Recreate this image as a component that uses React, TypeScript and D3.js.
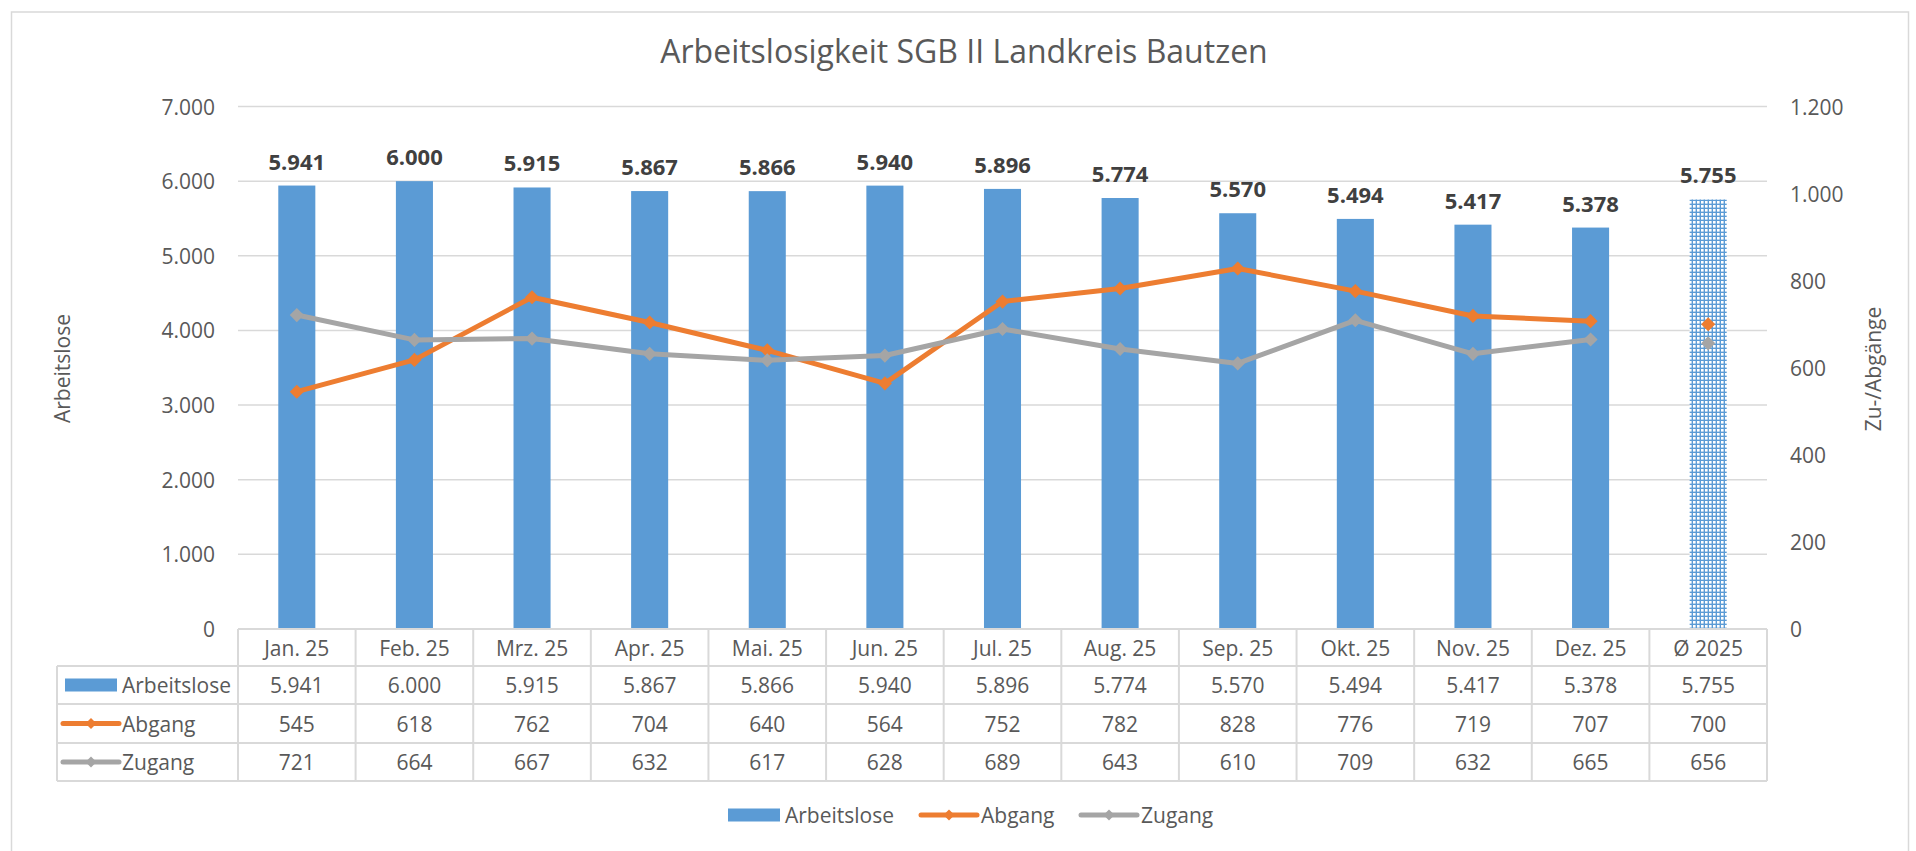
import React from 'react';
import * as d3 from 'd3';

const categories = ['Jan. 25', 'Feb. 25', 'Mrz. 25', 'Apr. 25', 'Mai. 25', 'Jun. 25', 'Jul. 25', 'Aug. 25', 'Sep. 25', 'Okt. 25', 'Nov. 25', 'Dez. 25', 'Ø 2025'];
const arbeitslose = [5941, 6000, 5915, 5867, 5866, 5940, 5896, 5774, 5570, 5494, 5417, 5378, 5755];
const abgang = [545, 618, 762, 704, 640, 564, 752, 782, 828, 776, 719, 707, 700];
const zugang = [721, 664, 667, 632, 617, 628, 689, 643, 610, 709, 632, 665, 656];
const leftTicks = [0, 1000, 2000, 3000, 4000, 5000, 6000, 7000];
const rightTicks = [0, 200, 400, 600, 800, 1000, 1200];

const BLUE = '#5B9BD5';
const ORANGE = '#ED7D31';
const GRAY = '#A5A5A5';
const TEXT = '#595959';
const GRID = '#D9D9D9';
const FONT = "'Open Sans', sans-serif";

const de = d3.formatLocale({ decimal: ',', thousands: '.', grouping: [3], currency: ['', '€'] });
const fmt = de.format(',');

const App = () => {
  const width = 1916;
  const height = 851;
  const left = 238;
  const right = 1767;
  const top = 106.5;
  const bottom = 629;

  const x = d3.scaleBand().domain(categories).range([left, right]).padding(0);
  const y = d3.scaleLinear().domain([0, 7000]).range([bottom, top]);
  const y2 = d3.scaleLinear().domain([0, 1200]).range([bottom, top]);
  const bw = x.bandwidth() * 0.315;
  const cx = (c) => x(c) + x.bandwidth() / 2;

  const months = categories.slice(0, 12);
  const line = d3.line().x((d) => cx(d[0])).y((d) => y2(d[1]));
  const diamond = d3.symbol(d3.symbolSquare, 100)();

  const rowY = [647.5, 685, 723.5, 762];
  const rowLines = [666, 704, 743, 781];

  const series = [
    { name: 'Abgang', values: abgang, color: ORANGE },
    { name: 'Zugang', values: zugang, color: GRAY },
  ];

  const lineKey = (x0, yc, color) => (
    <g>
      <line x1={x0} x2={x0 + 56} y1={yc} y2={yc} stroke={color} strokeWidth={5} strokeLinecap="round" />
      <path d={d3.symbol(d3.symbolSquare, 60)()} transform={`translate(${x0 + 28},${yc}) rotate(45)`} fill={color} />
    </g>
  );

  return (
    <div style={{ position: 'absolute', left: 0, top: 0 }}>
      <svg width={width} height={height} style={{ display: 'block', fontFamily: FONT }}>
        <defs>
          <pattern id="dots" width={4} height={4} patternUnits="userSpaceOnUse">
            <rect width={4} height={4} fill={BLUE} />
            <rect x={1} y={1} width={2.6} height={2.6} fill="#ffffff" />
          </pattern>
        </defs>
        <rect x={0} y={0} width={width} height={height} fill="#ffffff" />
        <rect x={11.5} y={12} width={1897} height={900} fill="none" stroke={GRID} strokeWidth={1.5} />

        <text x={964} y={62.7} textAnchor="middle" fontSize={32} fill={TEXT}>
          Arbeitslosigkeit SGB II Landkreis Bautzen
        </text>

        {leftTicks.slice(1).map((t) => (
          <line key={t} x1={left} x2={right} y1={y(t)} y2={y(t)} stroke={GRID} strokeWidth={1.5} />
        ))}
        {leftTicks.map((t) => (
          <text key={t} x={215} y={y(t)} textAnchor="end" dominantBaseline="central" fontSize={21} fill={TEXT}>
            {fmt(t)}
          </text>
        ))}
        {rightTicks.map((t) => (
          <text key={t} x={1790} y={y2(t)} textAnchor="start" dominantBaseline="central" fontSize={21} fill={TEXT}>
            {fmt(t)}
          </text>
        ))}
        <text transform="translate(61.7,368.5) rotate(-90)" textAnchor="middle" dominantBaseline="central" fontSize={21} fill={TEXT}>
          Arbeitslose
        </text>
        <text transform="translate(1873,369) rotate(-90)" textAnchor="middle" dominantBaseline="central" fontSize={21} fill={TEXT}>
          Zu-/Abgänge
        </text>

        {categories.map((c, i) => (
          <rect
            key={c}
            x={cx(c) - bw / 2}
            y={y(arbeitslose[i])}
            width={bw}
            height={bottom - y(arbeitslose[i])}
            fill={i === 12 ? 'url(#dots)' : BLUE}
          />
        ))}
        {categories.map((c, i) => (
          <text key={c} x={cx(c)} y={y(arbeitslose[i]) - 25} textAnchor="middle" dominantBaseline="central" fontSize={22} fontWeight="bold" fill="#404040">
            {fmt(arbeitslose[i])}
          </text>
        ))}

        {series.map((s) => (
          <g key={s.name}>
            <path d={line(months.map((m, i) => [m, s.values[i]]))} fill="none" stroke={s.color} strokeWidth={5} strokeLinejoin="round" strokeLinecap="round" />
            {categories.map((c, i) => (
              <path key={c} d={diamond} transform={`translate(${cx(c)},${y2(s.values[i])}) rotate(45)`} fill={s.color} />
            ))}
          </g>
        ))}

        {/* data table */}
        <g stroke={GRID} strokeWidth={2} fill="none">
          <line x1={left} x2={right} y1={bottom} y2={bottom} />
          {rowLines.map((ry) => (
            <line key={ry} x1={57} x2={right} y1={ry} y2={ry} />
          ))}
          <line x1={57} x2={57} y1={rowLines[0]} y2={rowLines[3]} />
          {categories.map((c) => (
            <line key={c} x1={x(c)} x2={x(c)} y1={bottom} y2={rowLines[3]} />
          ))}
          <line x1={right} x2={right} y1={bottom} y2={rowLines[3]} />
        </g>
        {categories.map((c, i) => (
          <g key={c} fontSize={21} fill={TEXT} textAnchor="middle">
            <text x={cx(c)} y={rowY[0]} dominantBaseline="central">{c}</text>
            <text x={cx(c)} y={rowY[1]} dominantBaseline="central">{fmt(arbeitslose[i])}</text>
            <text x={cx(c)} y={rowY[2]} dominantBaseline="central">{abgang[i]}</text>
            <text x={cx(c)} y={rowY[3]} dominantBaseline="central">{zugang[i]}</text>
          </g>
        ))}
        <rect x={65} y={rowY[1] - 6.5} width={52} height={13} fill={BLUE} />
        <text x={122} y={rowY[1]} dominantBaseline="central" fontSize={21} fill={TEXT}>Arbeitslose</text>
        {lineKey(63, rowY[2], ORANGE)}
        <text x={122} y={rowY[2]} dominantBaseline="central" fontSize={21} fill={TEXT}>Abgang</text>
        {lineKey(63, rowY[3], GRAY)}
        <text x={122} y={rowY[3]} dominantBaseline="central" fontSize={21} fill={TEXT}>Zugang</text>

        {/* legend */}
        <rect x={728} y={815 - 6.5} width={52} height={13} fill={BLUE} />
        <text x={785} y={815} dominantBaseline="central" fontSize={21} fill={TEXT}>Arbeitslose</text>
        {lineKey(921, 815, ORANGE)}
        <text x={981} y={815} dominantBaseline="central" fontSize={21} fill={TEXT}>Abgang</text>
        {lineKey(1081, 815, GRAY)}
        <text x={1141} y={815} dominantBaseline="central" fontSize={21} fill={TEXT}>Zugang</text>
      </svg>
    </div>
  );
};

export default App;
